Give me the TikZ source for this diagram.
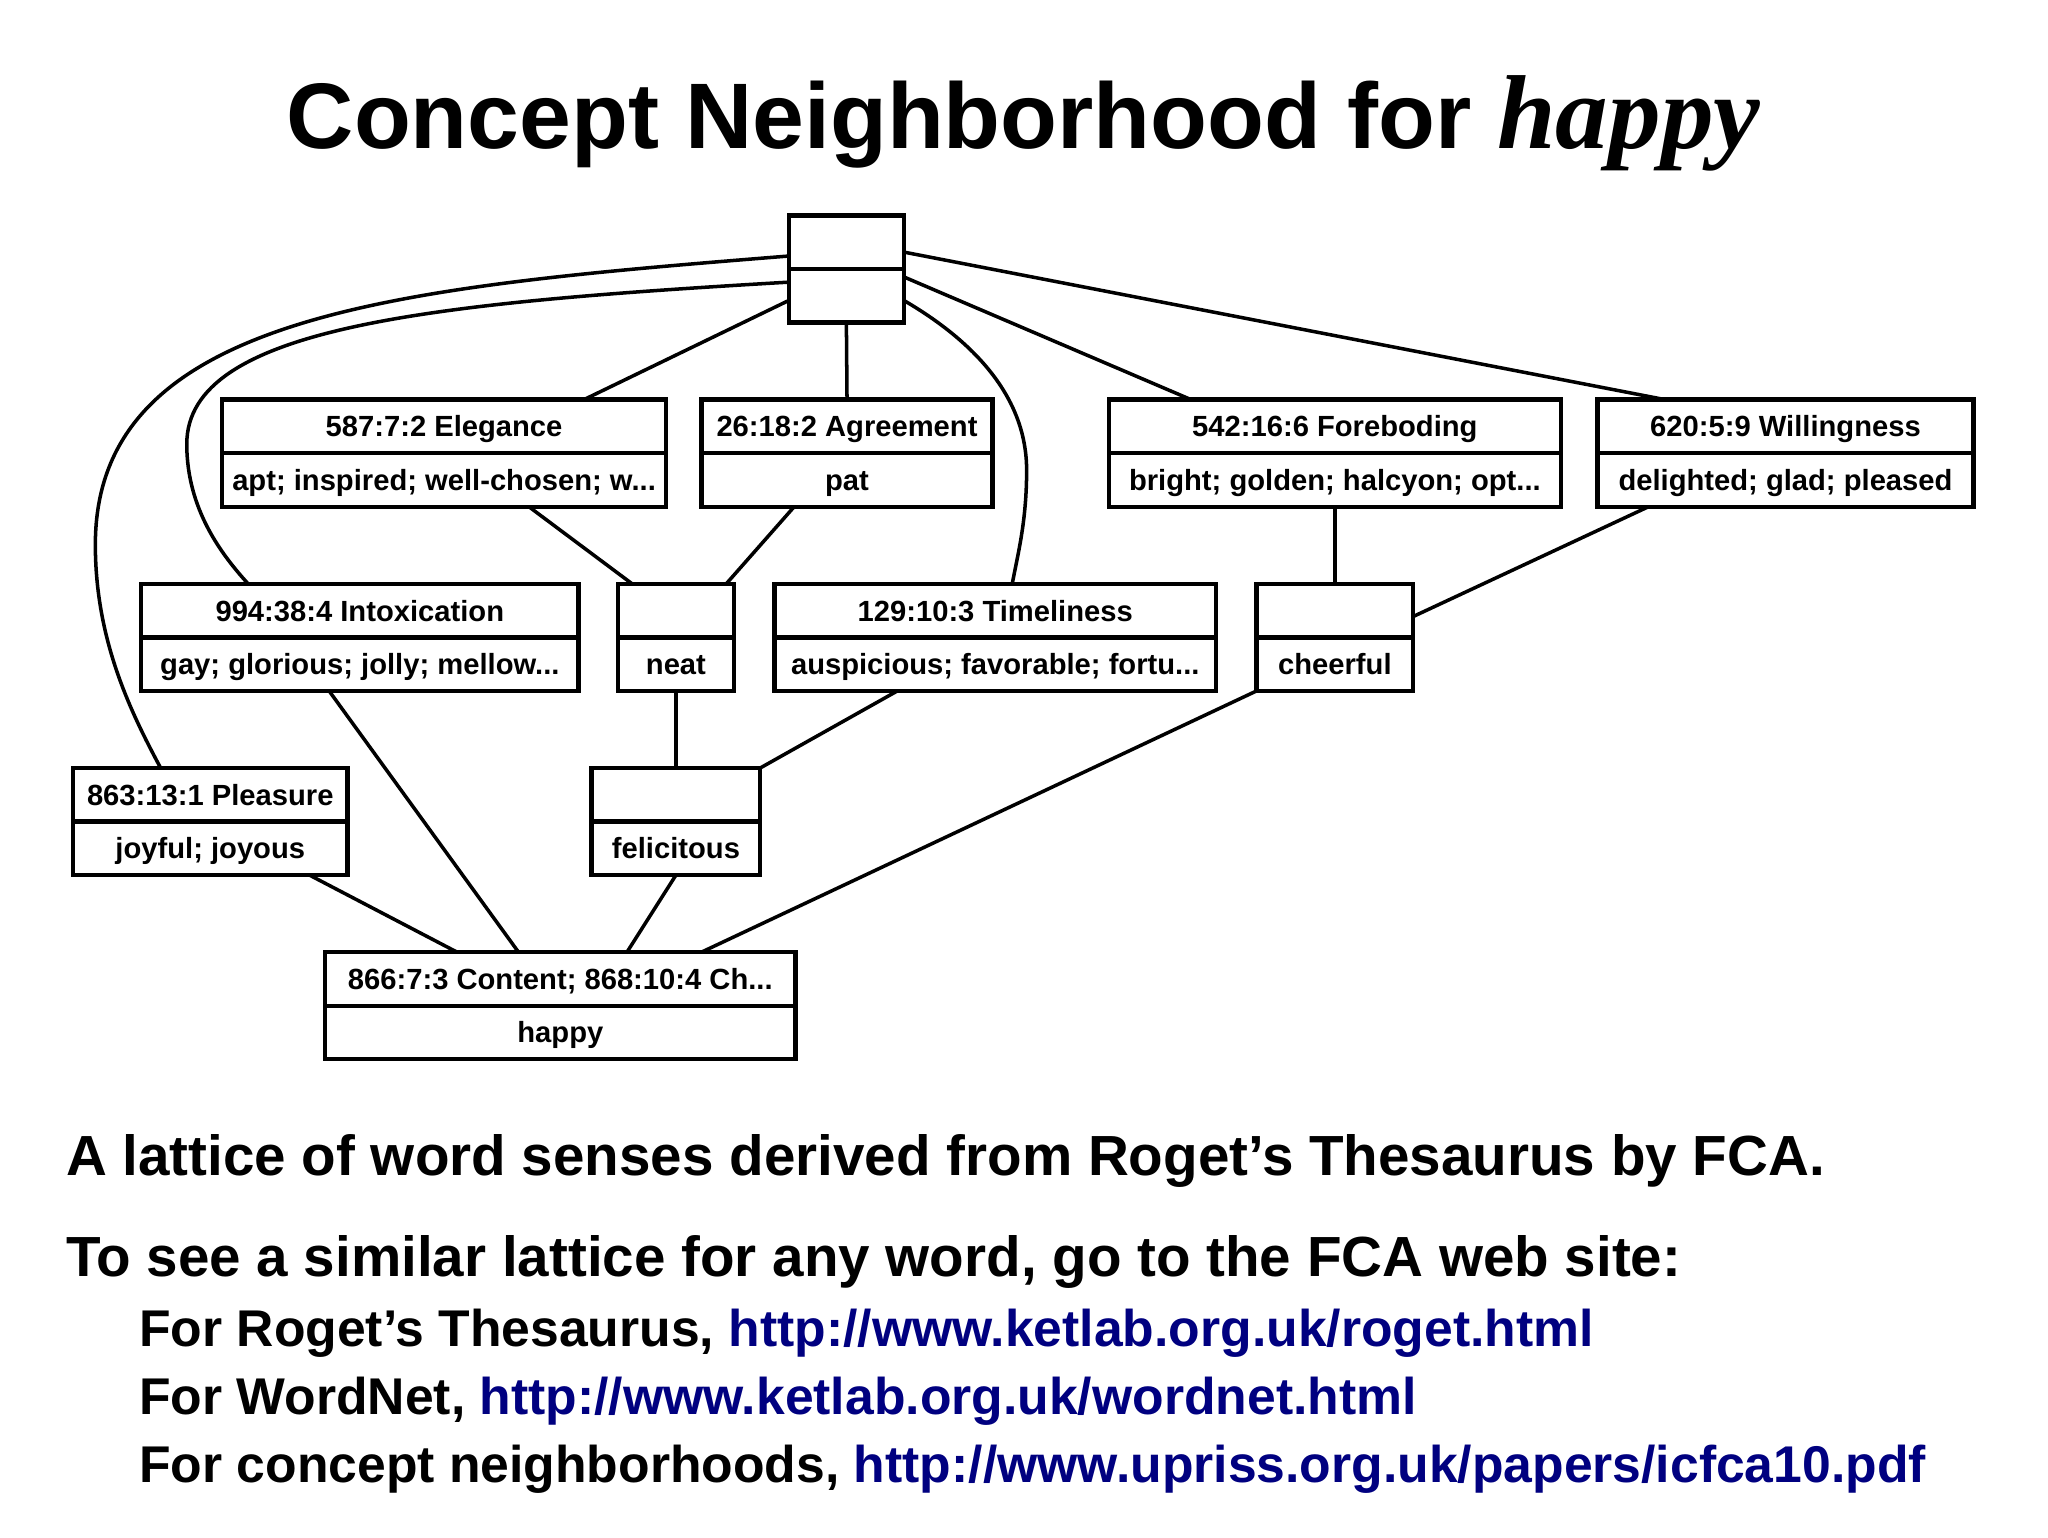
\documentclass[tikz,border=0pt]{standalone}
\usepackage{fontspec}
\setmainfont{Liberation Sans}
\newfontfamily\timesit{Liberation Serif}
\usetikzlibrary{calc}
\newlength\unitpx
\setlength\unitpx{0.1306mm}
\definecolor{urlblue}{RGB}{0,0,128}
\newcommand\boxfont{\fontsize{8.3}{10}\selectfont\bfseries}
\newcommand\concept[6]{%
  \node[cbox,minimum width=#4\unitpx,anchor=north] (#1a) at (#2,#3) {#5};
  \node[cbox,minimum width=#4\unitpx,anchor=north] (#1o) at (#1a.south) {#6};}
\begin{document}
\begin{tikzpicture}[x=\unitpx,y=-\unitpx,
  cbox/.style={draw,line width=1.25pt,minimum height=41\unitpx,inner sep=0pt,
    outer sep=0pt,text height=5.9pt,text depth=0pt,font=\boxfont},
  conn/.style={line width=1pt},
  bodytext/.style={anchor=base west,inner sep=0pt,font=\fontsize{16.1}{19}\selectfont\bfseries},
  subtext/.style={anchor=base west,inner sep=0pt,font=\fontsize{14.7}{18}\selectfont\bfseries}]
\useasboundingbox[fill=white] (0,0) rectangle (1568,1177);

% title
\node[anchor=base west,inner sep=0pt] (title) at (219,113.8)
  {\fontsize{26.5}{30}\selectfont\bfseries Concept Neighborhood for {\timesit\bfseries\itshape\fontsize{29.9}{30}\selectfont happy}};

% concepts
\concept{tp}{648}{165}{88}{}{}
\concept{el}{340}{306}{340}{587:7:2 Elegance}{apt; inspired; well-chosen; w...}
\concept{ag}{648.5}{306}{223}{26:18:2 Agreement}{pat}
\concept{fo}{1022}{306}{346}{542:16:6 Foreboding}{bright; golden; halcyon; opt...}
\concept{wi}{1367}{306}{288}{620:5:9 Willingness}{delighted; glad; pleased}
\concept{in}{275.5}{447}{335}{994:38:4 Intoxication}{gay; glorious; jolly; mellow...}
\concept{ne}{517.5}{447}{89}{}{neat}
\concept{ti}{762}{447}{338}{129:10:3 Timeliness}{auspicious; favorable; fortu...}
\concept{ch}{1022}{447}{120}{}{cheerful}
\concept{pl}{161}{588}{210}{863:13:1 Pleasure}{joyful; joyous}
\concept{fe}{517.5}{588}{129}{}{felicitous}
\concept{ha}{429}{729}{360}{866:7:3 Content; 868:10:4 Ch...}{happy}

% connectors from the top concept
\draw[conn] ($(tpa.south west)+(0,-10)$) .. controls (304,220) and (73,240) .. (73,417)
  .. controls (73,490) and (100,545) .. ($(pla.north west)+(67,0)$);
\draw[conn] ($(tpo.north west)+(0,10)$) .. controls (330,232) and (143,250) .. (143,340)
  .. controls (143,390) and (170,425) .. ($(ina.north west)+(82,0)$);
\draw[conn] ($(tpo.north west)+(0,24)$) -- ($(ela.north west)+(277,0)$);
\draw[conn] (tpo.south) -- (aga.north);
\draw[conn] ($(tpo.north east)+(0,24)$) .. controls (740,258) and (786,300) .. (786,360)
  .. controls (786,400) and (779,425) .. ($(tia.north west)+(182,0)$);
\draw[conn] ($(tpo.north east)+(0,6)$) -- ($(foa.north west)+(63,0)$);
\draw[conn] ($(tpa.south east)+(0,-13)$) -- ($(wia.north west)+(52,0)$);

% middle connectors
\draw[conn] ($(elo.south west)+(235,0)$) -- ($(nea.north west)+(11,0)$);
\draw[conn] ($(ago.south west)+(71,0)$) -- ($(nea.north east)+(-6,0)$);
\draw[conn] (foo.south) -- (cha.north);
\draw[conn] ($(wio.south west)+(39,0)$) -- ($(cha.south east)+(0,-16)$);
\draw[conn] (neo.south) -- (fea.north);
\draw[conn] ($(tio.south west)+(94,0)$) -- (fea.north east);

% connectors to the bottom concept
\draw[conn] (cho.south west) -- ($(haa.north west)+(288,0)$);
\draw[conn] (feo.south) -- ($(haa.north west)+(231,0)$);
\draw[conn] ($(ino.south west)+(144,0)$) -- ($(haa.north west)+(148,0)$);
\draw[conn] ($(plo.south west)+(181,0)$) -- ($(haa.north west)+(101,0)$);

% text below
\node[bodytext] (l1) at (50,900) {A lattice of word senses derived from Roget’s Thesaurus by FCA.};
\node[bodytext] (l2) at (50,977.4) {To see a similar lattice for any word, go to the FCA web site:};
\node[subtext] (l3) at (106,1031) {For Roget’s Thesaurus, \textcolor{urlblue}{http://www.ketlab.org.uk/roget.html}};
\node[subtext] (l4) at (106,1083) {For WordNet, \textcolor{urlblue}{http://www.ketlab.org.uk/wordnet.html}};
\node[subtext] (l5) at (106,1135) {For concept neighborhoods, \textcolor{urlblue}{http://www.upriss.org.uk/papers/icfca10.pdf}};
\end{tikzpicture}
\end{document}
